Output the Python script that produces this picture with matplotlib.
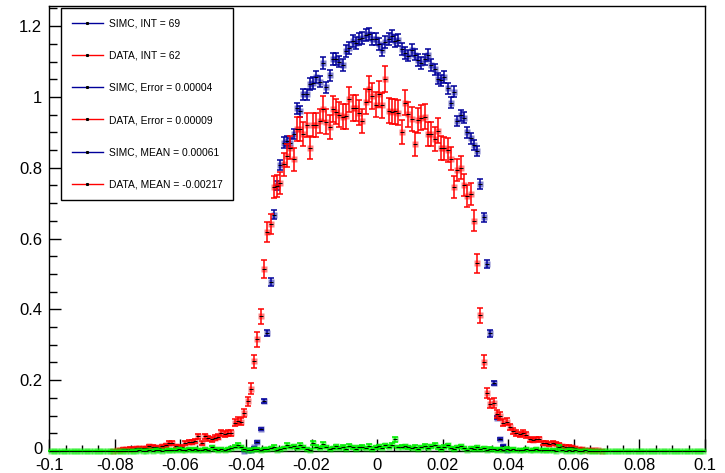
import matplotlib
matplotlib.use('Agg')
import matplotlib.pyplot as plt
import matplotlib.transforms as mtransforms
import numpy as np
from matplotlib.lines import Line2D
from matplotlib.ticker import FixedLocator, MultipleLocator

plt.rcParams['font.family'] = ['Liberation Sans', 'DejaVu Sans']

# ---------------- data ----------------
n_bins = 200
x_low, x_high = -0.1, 0.1

simc_values = [0.0] * 59 + [
    0.001, 0.002, 0.004, 0.010, 0.026, 0.062, 0.142, 0.333, 0.477, 0.668,
    0.750, 0.808, 0.871, 0.876, 0.870, 0.895, 0.968, 0.960, 1.008, 1.008,
    1.037, 1.040, 1.056, 1.043, 1.095, 1.027, 1.061, 1.107, 1.108, 1.100,
    1.090, 1.130, 1.138, 1.158, 1.152, 1.163, 1.167, 1.174, 1.177, 1.165,
    1.165, 1.149, 1.133, 1.156, 1.165, 1.172, 1.157, 1.160, 1.135, 1.125,
    1.117, 1.133, 1.120, 1.104, 1.097, 1.106, 1.118, 1.090, 1.078, 1.052,
    1.047, 1.056, 1.024, 0.984, 1.015, 0.932, 0.948, 0.942, 0.900, 0.883,
    0.865, 0.848, 0.755, 0.660, 0.529, 0.332, 0.192, 0.094, 0.033, 0.015,
    0.004,
] + [0.0] * 60

data_values = [0.0] * 19 + [
    0.001, 0.002, 0.003, 0.005, 0.006, 0.007, 0.006, 0.008, 0.008, 0.009,
    0.008, 0.014, 0.012, 0.011, 0.009, 0.014, 0.016, 0.022, 0.022, 0.014,
    0.012, 0.010, 0.022, 0.026, 0.025, 0.029, 0.041, 0.023, 0.042, 0.036,
    0.033, 0.038, 0.040, 0.050, 0.048, 0.052, 0.050, 0.080, 0.086, 0.083,
    0.108, 0.140, 0.176, 0.254, 0.315, 0.380, 0.515, 0.618, 0.641, 0.746,
    0.749, 0.756, 0.810, 0.834, 0.857, 0.824, 0.909, 0.909, 0.895, 0.921,
    0.857, 0.921, 0.921, 0.932, 0.967, 0.930, 0.916, 0.966, 0.958, 0.950,
    0.944, 0.946, 0.993, 0.969, 0.969, 0.956, 0.932, 0.987, 1.022, 1.002,
    0.978, 1.008, 0.977, 1.050, 0.961, 0.958, 0.960, 0.956, 0.900, 0.984,
    0.951, 0.938, 0.867, 0.934, 0.942, 0.944, 0.896, 0.895, 0.880, 0.905,
    0.856, 0.855, 0.850, 0.826, 0.747, 0.794, 0.800, 0.752, 0.720, 0.725,
    0.651, 0.530, 0.383, 0.252, 0.164, 0.134, 0.136, 0.104, 0.099, 0.080,
    0.083, 0.068, 0.057, 0.052, 0.047, 0.050, 0.045, 0.033, 0.031, 0.034,
    0.033, 0.023, 0.022, 0.020, 0.023, 0.021, 0.017, 0.014, 0.012, 0.012,
    0.010, 0.008, 0.006, 0.005, 0.004, 0.004, 0.003, 0.002, 0.002, 0.001,
] + [0.0] * 31

bkg_values = [0.0] * 25 + [
    0.001, 0.000, 0.002, 0.001, 0.000, 0.002, 0.001, 0.003, 0.002, 0.001,
    0.002, 0.004, 0.003, 0.002, 0.005, 0.003, 0.004, 0.006, 0.003, 0.005,
    0.004, 0.003, 0.006, 0.004, 0.010, 0.005, 0.003, 0.006, 0.004, 0.005,
    0.008, 0.012, 0.017, 0.011, 0.006, 0.004, 0.003, 0.005, 0.006, 0.004,
    0.006, 0.005, 0.008, 0.012, 0.004, 0.006, 0.009, 0.017, 0.011, 0.014,
    0.008, 0.017, 0.010, 0.006, 0.004, 0.022, 0.012, 0.009, 0.020, 0.011,
    0.006, 0.009, 0.014, 0.008, 0.012, 0.007, 0.015, 0.010, 0.006, 0.011,
    0.012, 0.009, 0.015, 0.007, 0.010, 0.014, 0.009, 0.016, 0.012, 0.018,
    0.033, 0.011, 0.012, 0.014, 0.010, 0.008, 0.012, 0.006, 0.011, 0.015,
    0.009, 0.013, 0.018, 0.010, 0.007, 0.012, 0.016, 0.009, 0.006, 0.011,
    0.013, 0.008, 0.004, 0.009, 0.007, 0.011, 0.006, 0.009, 0.004, 0.007,
    0.005, 0.003, 0.006, 0.004, 0.007, 0.003, 0.005, 0.002, 0.004, 0.003,
    0.005, 0.002, 0.003, 0.006, 0.002, 0.004, 0.003, 0.002, 0.003, 0.001,
    0.012, 0.002, 0.001, 0.003, 0.001, 0.002, 0.001, 0.000, 0.002, 0.001,
] + [0.0] * 35

# per-entry weights (error = sqrt(value * weight))
simc_weight = 0.00025
data_weight = 0.0013
bkg_weight = 0.0013

legend_labels = [
    "SIMC, INT = 69",
    "DATA, INT = 62",
    "SIMC, Error = 0.00004",
    "DATA, Error = 0.00009",
    "SIMC, MEAN = 0.00061",
    "DATA, MEAN = -0.00217",
]

x_ticks = [-0.1, -0.08, -0.06, -0.04, -0.02, 0.0, 0.02, 0.04, 0.06, 0.08, 0.1]
x_tick_labels = ['-0.1', '-0.08', '-0.06', '-0.04', '-0.02', '0',
                 '0.02', '0.04', '0.06', '0.08', '0.1']
y_ticks = [0, 0.2, 0.4, 0.6, 0.8, 1.0, 1.2]
y_tick_labels = ['0', '0.2', '0.4', '0.6', '0.8', '1', '1.2']

# ---------------- plot ----------------
W, H = 725, 473
fig = plt.figure(figsize=(W / 100, H / 100), dpi=100)
ax = fig.add_axes([49.3 / W, 1 - 451 / H, (705 - 49.3) / W, (451 - 6) / H])

edges = np.linspace(x_low, x_high, n_bins + 1)
centers = 0.5 * (edges[:-1] + edges[1:])

BLUE = '#00009a'
RED = '#ff0000'
GREEN = '#00ee00'


def draw(vals, weight, color, show_zero, z):
    v = np.asarray(vals, dtype=float)
    err = np.sqrt(v * weight)
    m = np.ones_like(v, dtype=bool) if show_zero else v > 0
    ax.errorbar(centers[m], v[m], yerr=err[m], fmt='none', ecolor=color,
                elinewidth=1.1, capsize=1.9, capthick=1.1, zorder=z,
                clip_on=False)
    ax.plot(centers[m], v[m], 's', ms=3.8, mfc=color, mec='none',
            alpha=0.5, zorder=z + 0.1, clip_on=False)
    ax.plot(centers[m], v[m], '_', ms=2.4, color='black', mew=0.7,
            zorder=z + 0.2, clip_on=False)


draw(simc_values, simc_weight, BLUE, False, 3)
draw(data_values, data_weight, RED, False, 4)
draw(bkg_values, bkg_weight, GREEN, True, 5)

ax.set_xlim(x_low, x_high)
ax.set_ylim(0, 1.257)

ax.xaxis.set_major_locator(FixedLocator(x_ticks))
ax.set_xticklabels(x_tick_labels)
ax.xaxis.set_minor_locator(MultipleLocator(0.005))
ax.yaxis.set_major_locator(FixedLocator(y_ticks))
ax.set_yticklabels(y_tick_labels)
ax.yaxis.set_minor_locator(MultipleLocator(0.05))

ax.tick_params(axis='both', which='both', direction='in', top=False,
               right=False, labelsize=12, width=1.0, color='black')
ax.tick_params(axis='both', which='major', length=8.6)
ax.tick_params(axis='x', which='minor', length=4.3)
ax.tick_params(axis='y', which='minor', length=5.5)
ax.tick_params(axis='x', which='major', pad=5)
ax.tick_params(axis='y', which='major', pad=5)
for s in ax.spines.values():
    s.set_linewidth(1.0)
    s.set_color('black')

# nudge the y "0" label up slightly so it does not touch the "-0.1" x label
zero_lbl = ax.get_yticklabels()[0]
zero_lbl.set_transform(zero_lbl.get_transform() +
                       mtransforms.ScaledTranslation(0, 3 / 100, fig.dpi_scale_trans))

colors = [BLUE, RED, BLUE, RED, BLUE, RED]
handles = [Line2D([0], [0], color=c, lw=1.0, marker='s', ms=1.2,
                  mfc='black', mec='black') for c in colors]
leg = ax.legend(handles, legend_labels, loc='upper left',
                bbox_to_anchor=(61 / W, 1 - 8 / H),
                bbox_transform=fig.transFigure, borderaxespad=0,
                fontsize=7.4, frameon=True, fancybox=False,
                edgecolor='black', framealpha=1, labelspacing=2.15,
                handlelength=3.0, handletextpad=0.6, borderpad=1.05,
                numpoints=1)
leg.get_frame().set_linewidth(1.0)
leg.set_zorder(10)

fig.savefig('out.png', dpi=100)
